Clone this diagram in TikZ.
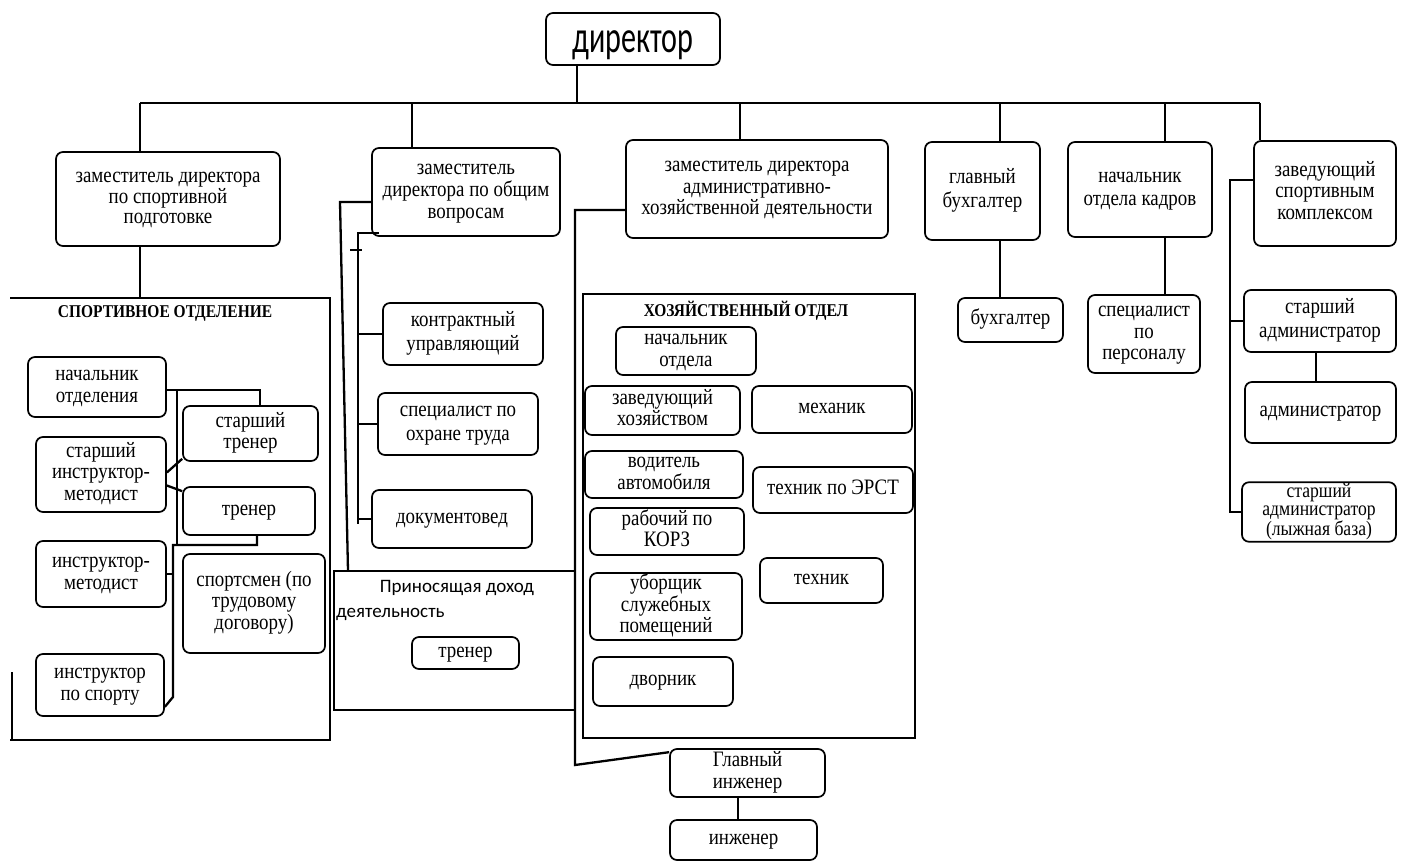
\documentclass[tikz,border=0pt]{standalone}
\usepackage{fontspec}
\setmainfont{Liberation Serif}
\newfontfamily\tallserif{Liberation Serif}[FakeStretch=0.86]
\newfontfamily\titleserif{Liberation Serif}[FakeStretch=0.86]
\newfontfamily\sansf{Carlito}
\newfontfamily\dirfont{Carlito}[FakeStretch=0.67]
\newcommand{\mlines}[1]{\begin{tabular}{@{}c@{}}\rule{0pt}{\dimexpr0.7\baselineskip+7pt\relax}#1\end{tabular}}
\begin{document}
\begin{tikzpicture}[x=1pt,y=-1pt]
\tikzset{
  box/.style={draw, rounded corners=7pt, line width=1.7pt, inner sep=1pt,
    font=\tallserif\fontsize{22}{21.5}\selectfont},
  tight/.style={font=\tallserif\fontsize{20.5}{18}\selectfont},
  snug/.style={font=\tallserif\fontsize{22}{20.5}\selectfont},
  loose/.style={font=\tallserif\fontsize{22}{23.5}\selectfont},
  wh/.style 2 args={minimum width=#1pt, minimum height=#2pt},
  conn/.style={line width=2.3pt},
  frame/.style={line width=2.6pt},
  ttl/.style={font=\titleserif\bfseries\fontsize{18}{20}\selectfont},
  sanstext/.style={font=\sansf\fontsize{19}{22}\selectfont, inner sep=0pt},
}
\fill[white] (0,0) rectangle (1406,863);
\useasboundingbox (0,0) rectangle (1406,863);

% ---------- top level ----------
\node[draw, rounded corners=7pt, line width=1.7pt, minimum width=174pt, minimum height=52pt,
  inner sep=1pt, font=\dirfont\fontsize{45}{48}\selectfont,
  execute at begin node={\rule{0pt}{38pt}\rule[-11pt]{0pt}{11pt}}] (dir) at (633,39) {директор};

\node[box, snug, wh={224}{94}] (d1) at (168,199) {\mlines{заместитель директора\\по спортивной\\подготовке}};
\node[box, wh={188}{88}] (d2) at (466,192) {\mlines{заместитель\\директора по общим\\вопросам}};
\node[box, wh={262}{98}] (d3) at (757,189) {\mlines{заместитель директора\\административно-\\хозяйственной деятельности}};
\node[box, loose, wh={115}{98}] (gb) at (982.5,191) {\mlines{главный\\бухгалтер}};
\node[box, loose, wh={144}{95}] (nk) at (1140,189.5) {\mlines{начальник\\отдела кадров}};
\node[box, wh={142}{105}] (zs) at (1325,193.5) {\mlines{заведующий\\спортивным\\комплексом}};

\coordinate (bdir) at (577,103);
\coordinate (bL) at (140,103);
\coordinate (b2) at (412,103);
\coordinate (b3) at (740,103);
\coordinate (b4) at (1000,103);
\coordinate (b5) at (1165,103);
\coordinate (bR) at (1260,103);

\draw[conn] (bL) -- (bR);
\draw[conn] (dir.south -| bdir) -- (bdir);
\draw[conn] (bL) -- (bL |- d1.north);
\draw[conn] (b2) -- (b2 |- d2.north);
\draw[conn] (b3) -- (b3 |- d3.north);
\draw[conn] (b4) -- (b4 |- gb.north);
\draw[conn] (b5) -- (b5 |- nk.north);
\draw[conn] (bR) -- (bR |- zs.north);

% ---------- accountant / HR ----------
\node[box, wh={105}{44}] (bh) at (1010.5,320) {\mlines{бухгалтер}};
\node[box, wh={112}{78}] (sp) at (1144,334) {\mlines{специалист\\по\\персоналу}};
\draw[conn] (gb.south -| b4) -- (bh.north -| b4);
\draw[conn] (nk.south -| b5) -- (sp.north -| b5);

% ---------- sports complex ----------
\node[box, loose, wh={152}{62}] (sa1) at (1320,321) {\mlines{старший\\администратор}};
\node[box, wh={151}{61}] (adm) at (1320.5,412.5) {\mlines{администратор}};
\node[box, tight, wh={154}{58}] (sa2) at (1319,512) {\mlines{старший\\администратор\\(лыжная база)}};
\coordinate (zsv) at (1230,180);
\coordinate (zsa) at (1316,0);
\draw[conn] (zs.west |- zsv) -- (zsv) -- (zsv |- sa2.west) -- (sa2.west);
\draw[conn] (zsv |- sa1.west) -- (sa1.west);
\draw[conn] (sa1.south -| zsa) -- (adm.north -| zsa);

% ---------- sports department ----------
\coordinate (sfTL) at (10,298);
\coordinate (sfTR) at (330,298);
\coordinate (sfBR) at (330,740);
\coordinate (sfBL) at (10,740);
\coordinate (sfL) at (12,672);
\draw[frame] (sfTL) -- (sfTR) -- (sfBR) -- (sfBL);
\draw[frame] (sfL) -- (sfL |- sfBL);
\draw[conn] (d1.south -| bL) -- (bL |- sfTL);
\node[ttl] (sft) at (165,313) {СПОРТИВНОЕ ОТДЕЛЕНИЕ};

\node[box, wh={138}{60}] (no) at (97,387) {\mlines{начальник\\отделения}};
\node[box, wh={130}{75}] (sim) at (101,474.5) {\mlines{старший\\инструктор-\\методист}};
\node[box, wh={130}{66}] (im) at (101,574) {\mlines{инструктор-\\методист}};
\node[box, wh={128}{62}] (isp) at (100,685) {\mlines{инструктор\\по спорту}};
\node[box, wh={135}{55}] (st) at (250.5,433.5) {\mlines{старший\\тренер}};
\node[box, wh={132}{48}] (tr) at (249,511) {\mlines{тренер}};
\node[box, wh={142}{99}] (spm) at (254,603.5) {\mlines{спортсмен (по\\трудовому\\договору)}};

\coordinate (sv1t) at (177,390);
\coordinate (sv1b) at (177,545);
\coordinate (sv2t) at (173,545);
\coordinate (sv2b) at (173,697);
\coordinate (stx) at (260,0);
\coordinate (trx) at (257,0);
\draw[conn] (no.east |- sv1t) -- (sv1t) -- (sv1b);
\draw[conn] (sv1t) -- (stx |- sv1t) -- (stx |- st.north);
\draw[conn] (tr.south -| trx) -- (trx |- sv2t) -- (sv2t) -- (sv2b) -- ([yshift=10pt]isp.south east);
\draw[conn] ([yshift=2pt]sim.east) -- ([yshift=3pt]st.south west);
\draw[conn] ([yshift=-11pt]sim.east) -- ([yshift=-5pt]tr.north west);
\draw[conn] (im.east) -- (im.east -| sv2t);

% ---------- general affairs group ----------
\node[box, loose, wh={160}{62}] (ku) at (463,334) {\mlines{контрактный\\управляющий}};
\node[box, loose, wh={160}{62}] (sot) at (458,424) {\mlines{специалист по\\охране труда}};
\node[box, wh={160}{58}] (dv) at (452,519) {\mlines{документовед}};

\coordinate (l1t) at (340,202);
\coordinate (l1b) at (348,571);
\coordinate (l2t) at (358,233);
\coordinate (l2b) at (358,524);
\coordinate (tk) at (350,250);
\draw[conn] (d2.west |- l1t) -- (l1t) -- (l1b);
\draw[conn] ([xshift=8pt]d2.west |- l2t) -- (l2t) -- (l2b);
\draw[conn] (l2t |- ku.west) -- (ku.west);
\draw[conn] (l2t |- sot.west) -- (sot.west);
\draw[conn] (l2t |- dv.west) -- (dv.west);
\draw[line width=1.2pt] (tk) -- ++(12,0);

% ---------- income-generating activity ----------
\coordinate (pfa) at (334,571);
\coordinate (pfb) at (575,710);
\draw[frame] (pfa) rectangle (pfb);
\node[sanstext] (pt1) at (457,588) {Приносящая доход};
\node[sanstext, anchor=west] (pt2) at (336,614) {деятельность};
\node[box, wh={107}{32}] (trn2) at (465.5,653) {\mlines{тренер}};

% ---------- household department ----------
\coordinate (hfa) at (583,294);
\coordinate (hfb) at (915,738);
\draw[frame] (hfa) rectangle (hfb);
\node[ttl] (hft) at (746,311) {ХОЗЯЙСТВЕННЫЙ ОТДЕЛ};

\node[box, wh={140}{48}] (hno) at (686,351) {\mlines{начальник\\отдела}};
\node[box, wh={155}{49}] (zh) at (662.5,410.5) {\mlines{заведующий\\хозяйством}};
\node[box, wh={160}{47}] (meh) at (832,409.5) {\mlines{механик}};
\node[box, wh={158}{47}] (va) at (664,474.5) {\mlines{водитель\\автомобиля}};
\node[box, wh={160}{46}] (erst) at (833,490) {\mlines{техник по ЭРСТ}};
\node[box, snug, wh={154}{47}] (korz) at (667,531.5) {\mlines{рабочий по\\КОРЗ}};
\node[box, snug, wh={152}{63}] (ub) at (666,606.5) {\mlines{уборщик\\служебных\\помещений}};
\node[box, wh={123}{45}] (teh) at (821.5,580.5) {\mlines{техник}};
\node[box, wh={140}{49}] (dvor) at (663,681.5) {\mlines{дворник}};

% ---------- chief engineer ----------
\node[box, wh={155}{48}] (gi) at (747.5,773) {\mlines{Главный\\инженер}};
\node[box, wh={147}{40}] (inj) at (743.5,840) {\mlines{инженер}};
\coordinate (r1t) at (575,210);
\coordinate (r1b) at (575,765);
\coordinate (gix) at (738,0);
\draw[conn] (d3.west |- r1t) -- (r1t) -- (r1b) -- ([yshift=-4pt]gi.north west);
\draw[conn] (gi.south -| gix) -- (inj.north -| gix);
\end{tikzpicture}
\end{document}
